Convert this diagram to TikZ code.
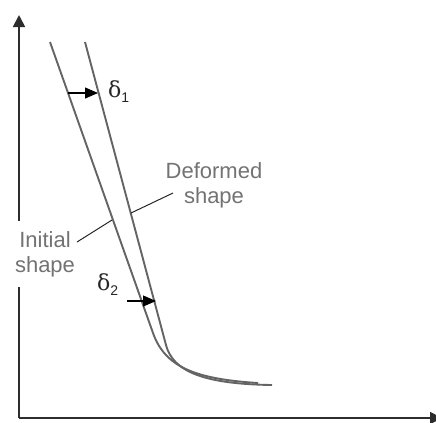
\documentclass[tikz,border=0pt]{standalone}
\usepackage{fontspec}
\setmainfont{Liberation Sans}
\newfontfamily\grkfont{DejaVu Serif}
\usetikzlibrary{arrows.meta}
\definecolor{curvegray}{RGB}{100,100,100}
\definecolor{textgray}{RGB}{115,115,115}
\definecolor{axisgray}{RGB}{45,45,45}
\tikzset{
  axisline/.style={draw=axisgray, line width=1.8bp, -{Triangle[length=12bp,width=12bp]}},
  shapeline/.style={draw=curvegray, line width=1.9bp, line join=round},
  deltaarrow/.style={draw=black, line width=1.1bp, -{Triangle[length=13bp,width=11bp]}},
  leader/.style={draw=black!85, line width=1bp},
  lbl/.style={text=textgray, font=\fontsize{22bp}{25bp}\selectfont, align=center, inner sep=0pt},
  deltalbl/.style={text=black!85, inner sep=0pt, anchor=west}
}
\newcommand{\dlabel}[1]{{\fontsize{22bp}{22bp}\grkfont δ}\raisebox{-5bp}{\fontsize{14bp}{14bp}\selectfont #1}}
\begin{document}
\begin{tikzpicture}[x=1bp,y=-1bp]
\useasboundingbox (0,0) rectangle (436,422);
% axes
\coordinate (O) at (19,418);
\coordinate (ytop) at (19,15);
\coordinate (xend) at (442,418);
\draw[axisline] (O) -- (ytop);
\draw[axisline] (O) -- (xend);
% shape curves
\coordinate (i0) at (50,42);
\coordinate (i1) at (153,333);
\coordinate (i2) at (258,383);
\coordinate (d0) at (85,42);
\coordinate (d1) at (166,345);
\coordinate (d2) at (272,385);
\draw[shapeline] (i0) -- (i1) .. controls (165,367) and (195,379) .. (i2);
\draw[shapeline] (d0) -- (d1) .. controls (173,372) and (205,384) .. (d2);
% delta arrows
\coordinate (a1s) at (68,93);
\coordinate (a1e) at (98,93);
\coordinate (a2s) at (127,301);
\coordinate (a2e) at (156,301);
\draw[deltaarrow] (a1s) -- (a1e);
\draw[deltaarrow] (a2s) -- (a2e);
\node[deltalbl] (del1) at (108,92) {\dlabel{1}};
\node[deltalbl] (del2) at (97,285) {\dlabel{2}};
% labels
\node[lbl] (def) at (214,185) {Deformed\\shape};
\node[lbl, fill=white, inner xsep=4bp, inner ysep=10bp] (ini) at (45,254) {Initial\\shape};
\coordinate (dl1) at (131,213);
\coordinate (dl2) at (173,193);
\coordinate (il1) at (77,242);
\coordinate (il2) at (112,220);
\draw[leader] (dl1) -- (dl2);
\draw[leader] (il1) -- (il2);
\end{tikzpicture}
\end{document}
